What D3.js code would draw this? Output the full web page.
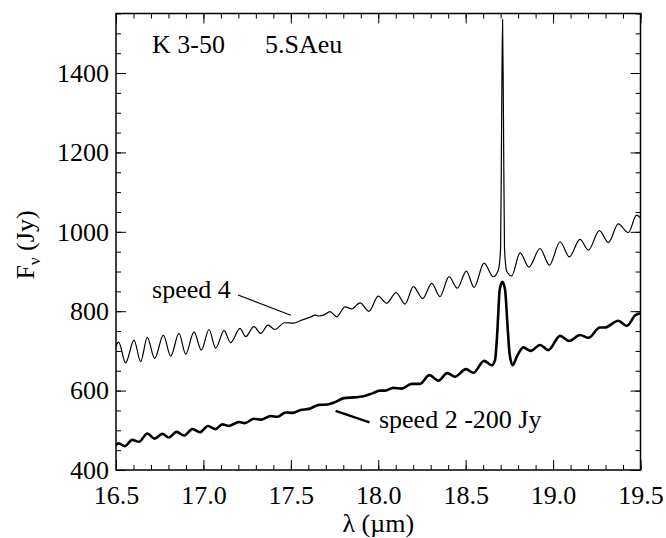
<!DOCTYPE html>
<html>
<head>
<meta charset="utf-8">
<script src="https://cdn.jsdelivr.net/npm/d3@7"></script>
<style>
  body { margin: 0; background: #fff; }
  svg text { font-family: "Liberation Serif", "Times New Roman", Times, serif !important; fill: #000; }
  .tick line { stroke: #000; stroke-width: 1; }
  .tick text { font-size: 26px; }
</style>
</head>
<body>
<svg width="666" height="538"></svg>
<script>
// wavelength (um), flux (Jy)
var speed4 = [
  [16.500, 712], [16.515, 722], [16.555, 670], [16.603, 727], [16.641, 673],
  [16.679, 734], [16.721, 681], [16.771, 740], [16.813, 687], [16.860, 744],
  [16.899, 692], [16.946, 748], [16.988, 702], [17.032, 754], [17.070, 707],
  [17.118, 751], [17.156, 721], [17.209, 757], [17.242, 736], [17.289, 761],
  [17.328, 744], [17.369, 765], [17.408, 754], [17.465, 771], [17.518, 770],
  [17.553, 776], [17.610, 785], [17.640, 790], [17.661, 788], [17.686, 790],
  [17.724, 799], [17.762, 786], [17.810, 811], [17.848, 806], [17.896, 821],
  [17.947, 800], [18.000, 838], [18.048, 820], [18.102, 847], [18.153, 818],
  [18.201, 862], [18.254, 832], [18.306, 870], [18.353, 837], [18.405, 887],
  [18.452, 858], [18.504, 901], [18.548, 860], [18.605, 921], [18.658, 887],
  [18.687, 904], [18.700, 960], [18.706, 1300], [18.711, 1535], [18.716, 1300],
  [18.722, 960], [18.735, 900], [18.763, 889], [18.811, 947], [18.862, 911],
  [18.925, 958], [18.979, 916], [19.040, 975], [19.093, 937], [19.154, 981],
  [19.202, 954], [19.265, 1003], [19.316, 973], [19.373, 1020], [19.430, 998],
  [19.478, 1042], [19.500, 1035]
];

// speed 2 spectrum, already shifted by -200 Jy
var speed2 = [
  [16.500, 463], [16.515, 467], [16.550, 460], [16.593, 476], [16.632, 471],
  [16.679, 492], [16.721, 479], [16.765, 491], [16.803, 482], [16.847, 496],
  [16.889, 487], [16.937, 503], [16.980, 495], [17.026, 511], [17.070, 503],
  [17.108, 515], [17.146, 511], [17.204, 521], [17.236, 518], [17.289, 529],
  [17.328, 527], [17.385, 536], [17.423, 534], [17.471, 545], [17.509, 544],
  [17.556, 551], [17.604, 554], [17.661, 564], [17.709, 565], [17.747, 570],
  [17.804, 581], [17.861, 583], [17.909, 585], [17.966, 593], [18.010, 600],
  [18.040, 600], [18.086, 607], [18.134, 605], [18.191, 617], [18.239, 617],
  [18.292, 639], [18.344, 625], [18.395, 644], [18.439, 635], [18.502, 654],
  [18.544, 645], [18.605, 675], [18.649, 664], [18.668, 677], [18.680, 740],
  [18.695, 855], [18.710, 874], [18.725, 855], [18.740, 760], [18.752, 690],
  [18.769, 664], [18.792, 685], [18.830, 709], [18.872, 700], [18.925, 715],
  [18.973, 702], [19.040, 738], [19.093, 725], [19.154, 740], [19.202, 733],
  [19.268, 759], [19.296, 759], [19.373, 776], [19.421, 763], [19.471, 790],
  [19.500, 795]
];

var xMajor = [16.5, 17.0, 17.5, 18.0, 18.5, 19.0, 19.5];
var yMajor = [400, 600, 800, 1000, 1200, 1400];
var xDomain = [16.5, 19.5];
var yDomain = [400, 1550];

// labels: [text, wavelength, flux] and leader lines [x0, y0, x1, y1]
var labels = [
  ["speed 4", 16.706, 833],
  ["speed 2 -200 Jy", 18.004, 505]
];
var leaders = [
  [17.198, 841, 17.500, 790],
  [17.756, 549, 17.950, 520]
];

var svg = d3.select("svg"),
    margin = {top: 13.5, right: 25.5, bottom: 68, left: 116},
    width = +svg.attr("width") - margin.left - margin.right,
    height = +svg.attr("height") - margin.top - margin.bottom;

var g = svg.append("g")
    .attr("transform", "translate(" + margin.left + "," + margin.top + ")");

var x = d3.scaleLinear().domain(xDomain).range([0, width]);
var y = d3.scaleLinear().domain(yDomain).range([height, 0]);

var xMinor = d3.range(165, 196).map(function(d) { return d / 10; });
var yMinor = d3.range(400, 1551, 50);

// minor ticks on all four sides
g.append("g").attr("transform", "translate(0," + height + ")")
    .call(d3.axisBottom(x).tickValues(xMinor).tickSize(-5).tickFormat(""));
g.append("g")
    .call(d3.axisTop(x).tickValues(xMinor).tickSize(-5).tickFormat(""));
g.append("g")
    .call(d3.axisLeft(y).tickValues(yMinor).tickSize(-5).tickFormat(""));
g.append("g").attr("transform", "translate(" + width + ",0)")
    .call(d3.axisRight(y).tickValues(yMinor).tickSize(-5).tickFormat(""));

// major ticks
g.append("g").attr("transform", "translate(0," + height + ")")
    .call(d3.axisBottom(x).tickValues(xMajor).tickSize(-10).tickPadding(16).tickFormat(d3.format(".1f")));
g.append("g")
    .call(d3.axisTop(x).tickValues(xMajor).tickSize(-10).tickFormat(""));
g.append("g")
    .call(d3.axisLeft(y).tickValues(yMajor).tickSize(-10).tickPadding(7).tickFormat(d3.format("d")));
g.append("g").attr("transform", "translate(" + width + ",0)")
    .call(d3.axisRight(y).tickValues(yMajor).tickSize(-10).tickFormat(""));

g.selectAll(".domain").remove();

// frame
g.append("rect")
    .attr("width", width)
    .attr("height", height)
    .attr("fill", "none")
    .attr("stroke", "#000")
    .attr("stroke-width", 1.5);

var line = d3.line()
    .x(function(d) { return x(d[0]); })
    .y(function(d) { return y(d[1]); })
    .curve(d3.curveMonotoneX);

g.append("path")
    .datum(speed4)
    .attr("fill", "none")
    .attr("stroke", "#000")
    .attr("stroke-width", 1.2)
    .attr("d", line);

g.append("path")
    .datum(speed2)
    .attr("fill", "none")
    .attr("stroke", "#000")
    .attr("stroke-width", 2.6)
    .attr("d", line);

// leader lines
g.selectAll(".leader")
    .data(leaders)
  .enter().append("line")
    .attr("class", "leader")
    .attr("x1", function(d) { return x(d[0]); })
    .attr("y1", function(d) { return y(d[1]); })
    .attr("x2", function(d) { return x(d[2]); })
    .attr("y2", function(d) { return y(d[3]); })
    .attr("stroke", "#000")
    .attr("stroke-width", function(d, i) { return i == 0 ? 1.2 : 2.4; });

g.selectAll(".lbl")
    .data(labels)
  .enter().append("text")
    .attr("class", "lbl")
    .attr("x", function(d) { return x(d[1]); })
    .attr("y", function(d) { return y(d[2]); })
    .attr("font-size", 26)
    .text(function(d) { return d[0]; });

// title inside the frame
g.append("text")
    .attr("x", 36)
    .attr("y", 39)
    .attr("font-size", 26)
    .text("K 3-50");
g.append("text")
    .attr("x", 149)
    .attr("y", 39)
    .attr("font-size", 26)
    .text("5.SAeu");

// axis titles
g.append("text")
    .attr("x", width / 2)
    .attr("y", height + 62)
    .attr("text-anchor", "middle")
    .attr("font-size", 26)
    .text("λ (µm)");

var yl = svg.append("text")
    .attr("transform", "translate(34,245) rotate(-90)")
    .attr("text-anchor", "middle")
    .attr("font-size", 26);
yl.append("tspan").text("F");
yl.append("tspan").attr("font-size", 17).attr("dy", 6).text("ν");
yl.append("tspan").attr("dy", -6).text(" (Jy)");
</script>
</body>
</html>
